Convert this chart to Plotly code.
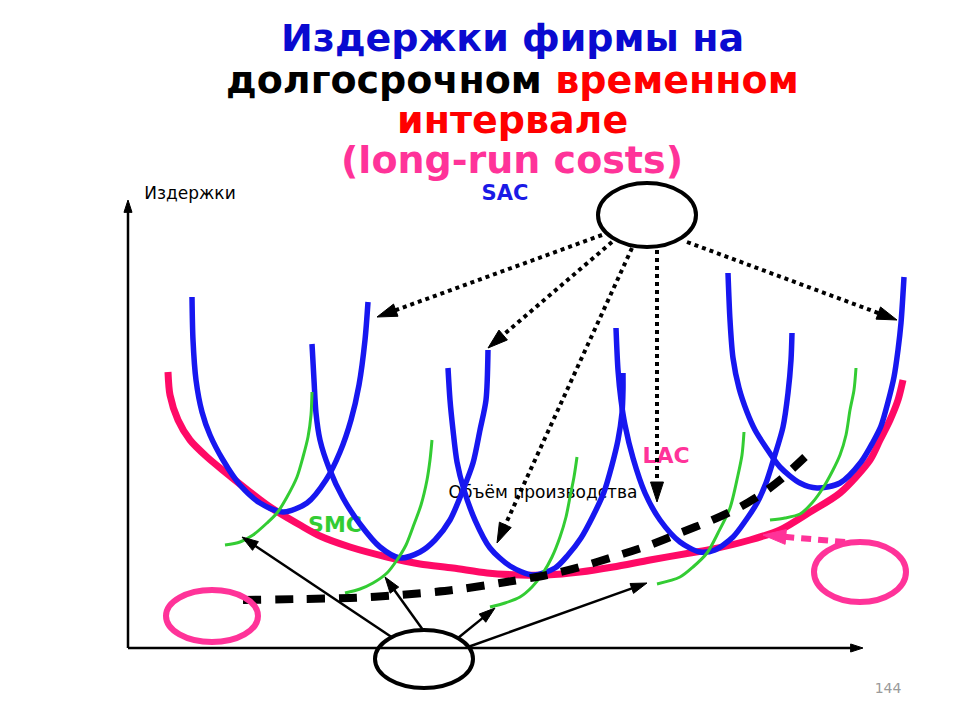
import plotly.graph_objects as go

# ---------------- data (output q, cost c; origin at the diagram's axes) ----------------
lac_q = [40, 42, 50, 62, 79, 97, 122, 142, 172, 192, 222, 259, 292, 325, 359, 392, 419, 452, 485, 522, 562, 585, 622, 652, 682, 712, 742, 752, 762, 770, 775]
lac_c = [276, 253, 228, 208, 191, 176, 156, 141, 123, 112, 101, 91, 84, 80, 75, 73, 73, 76, 81, 88, 95, 99, 108, 118, 136, 155, 188, 208, 228, 248, 268]

sac1_q = [64, 65, 68, 74, 82, 95, 112, 132, 155, 179, 198, 212, 223, 231, 237, 240]
sac1_c = [351, 308, 268, 236, 213, 188, 163, 145, 136, 145, 168, 196, 228, 263, 308, 346]
sac2_q = [184, 186, 188, 192, 201, 215, 232, 252, 272, 292, 307, 322, 335, 345, 352, 358, 360]
sac2_c = [304, 268, 235, 208, 180, 150, 124, 101, 90, 96, 108, 128, 158, 185, 218, 248, 298]
sac3_q = [320, 322, 325, 329, 336, 347, 362, 382, 405, 427, 440, 453, 465, 476, 484, 490, 494, 495, 495]
sac3_c = [280, 248, 218, 186, 158, 128, 100, 82, 73, 80, 93, 110, 132, 156, 183, 208, 235, 258, 275]
sac4_q = [488, 490, 493, 497, 505, 517, 532, 552, 572, 587, 605, 618, 629, 638, 646, 655, 660, 663, 664]
sac4_c = [320, 278, 248, 223, 190, 155, 128, 106, 96, 98, 111, 128, 145, 165, 190, 221, 255, 288, 315]
sac5_q = [600, 602, 605, 611, 619, 627, 637, 652, 672, 689, 712, 733, 745, 753, 760, 766, 770, 773, 776]
sac5_c = [375, 328, 290, 260, 236, 218, 202, 181, 165, 160, 165, 186, 206, 222, 246, 271, 298, 325, 371]

smc1_q = [97, 112, 125, 139, 149, 159, 169, 175, 180, 183, 184]
smc1_c = [103, 106, 113, 125, 135, 151, 171, 191, 211, 233, 256]
smc2_q = [217, 232, 245, 259, 269, 278, 285, 293, 299, 302, 304]
smc2_c = [55, 59, 65, 75, 88, 103, 121, 143, 168, 188, 208]
smc3_q = [362, 377, 392, 404, 415, 424, 432, 438, 442, 446, 449]
smc3_c = [41, 45, 51, 61, 75, 91, 111, 131, 151, 171, 191]
smc4_q = [529, 552, 565, 579, 590, 602, 610, 614, 616]
smc4_c = [64, 71, 81, 95, 115, 140, 173, 193, 216]
smc5_q = [642, 657, 672, 684, 695, 705, 712, 718, 722, 726, 728]
smc5_c = [128, 130, 134, 145, 160, 178, 193, 213, 238, 258, 280]

lmc_q = [115, 172, 222, 272, 325, 372, 419, 452, 485, 522, 552, 582, 612, 632, 652, 677]
lmc_c = [48, 49, 50, 53, 58, 65, 73, 81, 91, 103, 115, 127, 141, 153, 168, 191]

# pointer arrows: start -> tip
sac_ptr_q0 = [474, 484, 504, 529, 559]
sac_ptr_c0 = [413, 406, 400, 398, 406]
sac_ptr_q1 = [249, 360, 369, 529, 769]
sac_ptr_c1 = [331, 300, 105, 146, 328]

smc_ptr_q0 = [265, 295, 330, 340]
smc_ptr_c0 = [10, 18, 10, 1]
smc_ptr_q1 = [114, 257, 367, 519]
smc_ptr_c1 = [111, 71, 40, 65]

lac_ptr_q = [717, 635]
lac_ptr_c = [106, 113]

axis_x_q = [0, 735]
axis_x_c = [0, 0]
axis_y_q = [0, 0]
axis_y_c = [0, 448]

# ellipses: centre and half-axes
ell_q = [519, 296, 84, 732]
ell_c = [433, -11, 32, 76]
ell_rq = [49, 49, 46, 46]
ell_rc = [32, 29, 26, 30]
ell_col = ["#000000", "#000000", "#ff3399", "#ff3399"]

title_lines = ["Издержки фирмы на",
               "долгосрочном <span style='color:#ff0000'>временном</span>",
               "интервале",
               "(long-run costs)"]
title_cols = ["#0a0ad0", "#000000", "#ff0000", "#ff3399"]
title_c = [610, 568, 528, 488]

labels = ["Издержки", "Объём производства", "SAC", "LAC", "SMC", "144"]
label_q = [62, 415, 377, 538, 207, 760]
label_c = [453, 154, 453, 191, 122, -41]

# ---------------- figure ----------------
BLUE = "#1717f0"
GREEN = "#33cc33"
LACCOL = "#ff0a66"

fig = go.Figure()

lab_style = [
    dict(size=17, color="#000000", family="DejaVu Sans", weight="normal"),
    dict(size=17, color="#000000", family="DejaVu Sans", weight="normal"),
    dict(size=21, color="#1a1ae6", family="DejaVu Sans", weight="bold"),
    dict(size=22, color="#ff3399", family="DejaVu Sans", weight="bold"),
    dict(size=22, color="#33cc33", family="DejaVu Sans", weight="bold"),
    dict(size=14, color="#9a9a9a", family="DejaVu Sans", weight="normal"),
]
for i, t in enumerate(labels):
    fig.add_trace(go.Scatter(x=[label_q[i]], y=[label_c[i]], mode="text", text=[t],
                             textposition="middle center", textfont=lab_style[i],
                             hoverinfo="skip"))

# LAC
fig.add_trace(go.Scatter(x=lac_q, y=lac_c, mode="lines",
                         line=dict(color=LACCOL, width=7, shape="spline", smoothing=0.8)))

# SAC curves
for q, c in [(sac1_q, sac1_c), (sac2_q, sac2_c), (sac3_q, sac3_c), (sac4_q, sac4_c), (sac5_q, sac5_c)]:
    fig.add_trace(go.Scatter(x=q, y=c, mode="lines",
                             line=dict(color=BLUE, width=5.5, shape="spline", smoothing=0.8)))

# SMC curves
for q, c in [(smc1_q, smc1_c), (smc2_q, smc2_c), (smc3_q, smc3_c), (smc4_q, smc4_c), (smc5_q, smc5_c)]:
    fig.add_trace(go.Scatter(x=q, y=c, mode="lines",
                             line=dict(color=GREEN, width=3, shape="spline", smoothing=0.8)))

# LMC dashed
fig.add_trace(go.Scatter(x=lmc_q, y=lmc_c, mode="lines",
                         line=dict(color="#000000", width=8, dash="18px,14px",
                                   shape="spline", smoothing=0.8)))


def arrow(q, c, color, width, dash, head):
    fig.add_trace(go.Scatter(
        x=q, y=c, mode="lines+markers",
        line=dict(color=color, width=width, dash=dash),
        marker=dict(symbol="arrow", size=[0] * (len(q) - 1) + [head], angleref="previous",
                    color=color, opacity=1, line=dict(width=1, color=color)),
        hoverinfo="skip"))


# axes
arrow(axis_x_q, axis_x_c, "#000000", 2.5, "solid", 13)
arrow(axis_y_q, axis_y_c, "#000000", 2.5, "solid", 13)

# dotted pointers to SAC
for i in range(len(sac_ptr_q0)):
    arrow([sac_ptr_q0[i], sac_ptr_q1[i]], [sac_ptr_c0[i], sac_ptr_c1[i]],
          "#000000", 4, "4px,4px", 21)

# solid pointers to SMC
for i in range(len(smc_ptr_q0)):
    arrow([smc_ptr_q0[i], smc_ptr_q1[i]], [smc_ptr_c0[i], smc_ptr_c1[i]],
          "#000000", 2.5, "solid", 17)

# pink pointer to LAC
arrow(lac_ptr_q, lac_ptr_c, "#ff3399", 6, "10px,7px", 24)

# ellipses
for i in range(len(ell_q)):
    fig.add_shape(type="circle", xref="x", yref="y",
                  x0=ell_q[i] - ell_rq[i], x1=ell_q[i] + ell_rq[i],
                  y0=ell_c[i] - ell_rc[i], y1=ell_c[i] + ell_rc[i],
                  line=dict(color=ell_col[i], width=4 if ell_col[i] == "#000000" else 6),
                  fillcolor="rgba(0,0,0,0)")

# title
for i, t in enumerate(title_lines):
    fig.add_annotation(x=384, y=title_c[i], xref="x", yref="y", text=t, showarrow=False,
                       font=dict(family="DejaVu Sans", size=38, color=title_cols[i], weight="bold"),
                       xanchor="center", yanchor="middle")

# page body has an 8px margin: figure is 952x712 and ranges are set so that
# the diagram lands where it sits in the 960x720 reference
fig.update_layout(
    width=952, height=712, margin=dict(l=0, r=0, t=0, b=0),
    paper_bgcolor="white", plot_bgcolor="white", showlegend=False,
    xaxis=dict(range=[-120, 832], visible=False, fixedrange=True),
    yaxis=dict(range=[-72, 640], visible=False, fixedrange=True),
)

fig.write_html("out.html")
